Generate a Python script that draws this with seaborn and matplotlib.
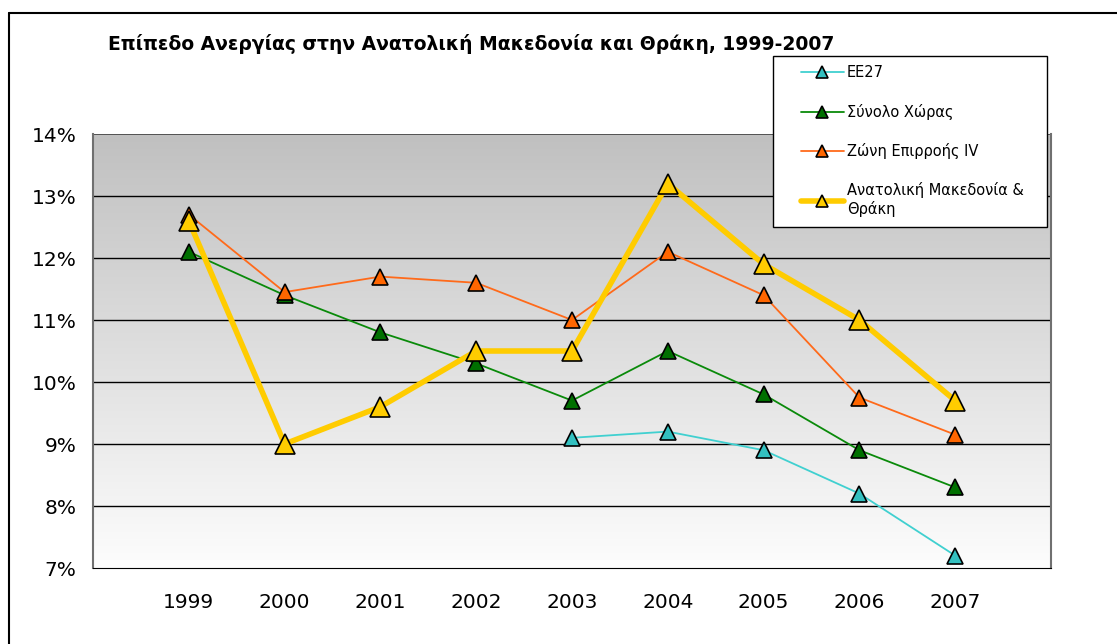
import numpy as np
import pandas as pd
import matplotlib
matplotlib.use("Agg")
import matplotlib.pyplot as plt
from matplotlib.ticker import FuncFormatter
from matplotlib.legend_handler import HandlerLine2D
import seaborn as sns

years = [1999, 2000, 2001, 2002, 2003, 2004, 2005, 2006, 2007]
ee27 = [np.nan, np.nan, np.nan, np.nan, 9.1, 9.2, 8.9, 8.2, 7.2]
synolo = [12.1, 11.4, 10.8, 10.3, 9.7, 10.5, 9.8, 8.9, 8.3]
zoni = [12.7, 11.45, 11.7, 11.6, 11.0, 12.1, 11.4, 9.75, 9.15]
amth = [12.6, 9.0, 9.6, 10.5, 10.5, 13.2, 11.9, 11.0, 9.7]
labels = ["ΕΕ27", "Σύνολο Χώρας", "Ζώνη Επιρροής IV", "Ανατολική Μακεδονία &\nΘράκη"]
title = "Επίπεδο Ανεργίας στην Ανατολική Μακεδονία και Θράκη, 1999-2007"

sns.set_style("white")
plt.rcParams['font.family'] = ['DejaVu Sans']
plt.rcParams['text.color'] = 'black'
plt.rcParams['xtick.color'] = 'black'
plt.rcParams['ytick.color'] = 'black'

fig = plt.figure(figsize=(11.17, 6.44), dpi=100)
ax = fig.add_axes([93/1117, 1-568/644, (1051-93)/1117, (568-134)/644])

# gradient background
grad = np.linspace(0, 1, 256).reshape(-1, 1)
cmap = matplotlib.colors.LinearSegmentedColormap.from_list("g", ["#fdfdfd", "#c0c0c0"])
ax.imshow(grad, extent=[1998, 2008, 7, 14], origin="lower", aspect="auto", cmap=cmap, zorder=0)

series = [
    (ee27, "#40d0d0", "#33c0c0", 1.3, 11),
    (synolo, "#0a8a0a", "#007000", 1.3, 11),
    (zoni, "#ff6a1a", "#ff6600", 1.3, 11),
    (amth, "#ffcc00", "#ffcc00", 4.0, 14),
]
for (vals, lc, mc, lw, ms), lab in zip(series, labels):
    df = pd.DataFrame({"year": years, "val": vals}).dropna()
    sns.lineplot(data=df, x="year", y="val", ax=ax, color=lc, linewidth=lw,
                 marker="^", markersize=ms, markerfacecolor=mc, markeredgecolor="black",
                 markeredgewidth=1.2, label=lab, zorder=3)

ax.set_xlim(1998, 2008)
ax.set_ylim(7, 14)
ax.set_yticks(range(7, 15))
ax.yaxis.set_major_formatter(FuncFormatter(lambda v, p: f"{v:.0f}%"))
ax.set_xticks(years + [2008])
ax.set_xticklabels([str(y) for y in years] + [""])
for yv in range(8, 14):
    ax.axhline(yv, color="black", linewidth=1.0, zorder=1)
ax.axhline(14, color="#404040", linewidth=1.2, zorder=1)
ax.set_xlabel("")
ax.set_ylabel("")
ax.tick_params(axis="both", which="both", direction="out", length=5, width=1, color="black",
               labelsize=14.5, labelcolor="black")
ax.tick_params(axis="y", pad=7)
ax.tick_params(axis="x", pad=13)
for s in ["left", "right"]:
    ax.spines[s].set_color("#707070")
    ax.spines[s].set_linewidth(1.5)
ax.spines["bottom"].set_color("black")
ax.spines["top"].set_visible(False)

fig.text(108/1117, 1-44/644, title, fontsize=13.5, fontweight="bold", va="center", ha="left",
         color="black")


class ShiftedHandler(HandlerLine2D):
    def create_artists(self, legend, orig_handle, xdescent, ydescent, width, height, fontsize, trans):
        shift = 13
        return super().create_artists(legend, orig_handle, xdescent - shift, ydescent,
                                      width - shift, height, fontsize, trans)


handles, labs = ax.get_legend_handles_labels()
leg = ax.legend(handles, labs, loc="upper left",
                bbox_to_anchor=(773/1117, 1-56/644, 274/1117, 0), mode="expand",
                bbox_transform=fig.transFigure,
                frameon=True, fancybox=False, edgecolor="black", facecolor="white", framealpha=1.0,
                fontsize=10.5, labelspacing=1.6,
                handlelength=4.2, handletextpad=0.2, borderpad=0.65, borderaxespad=0,
                handler_map={h: ShiftedHandler() for h in handles})
leg.get_frame().set_linewidth(1.0)
for t in leg.get_texts():
    t.set_color("black")
for h in leg.legend_handles:
    h.set_markersize(9)

# figure border
fig.add_artist(plt.Line2D([9/1117, 9/1117], [0, 1-13/644], color="black", linewidth=1.5, transform=fig.transFigure))
fig.add_artist(plt.Line2D([9/1117, 1], [1-13/644, 1-13/644], color="black", linewidth=1.5, transform=fig.transFigure))

fig.savefig("out.png", dpi=100)
